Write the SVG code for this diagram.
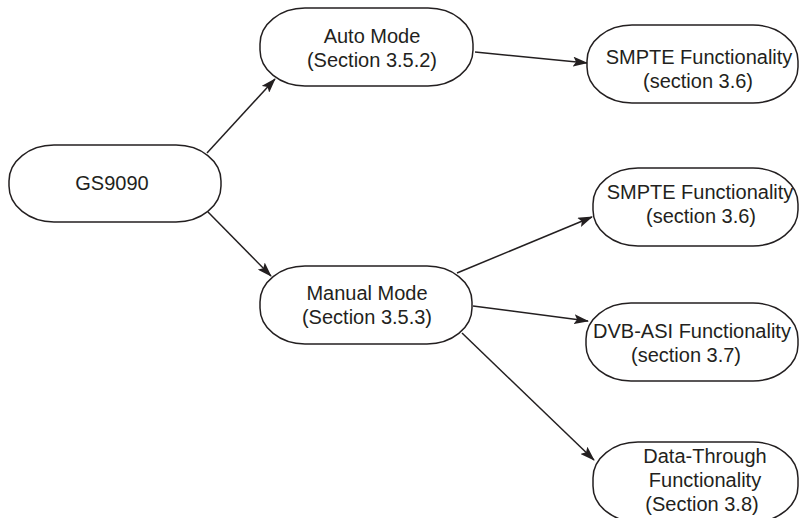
<svg xmlns="http://www.w3.org/2000/svg" width="799" height="518" viewBox="0 0 799 518">
<defs>
<style>
.node{fill:#fff;stroke:#231f20;stroke-width:1.5}
.t{font-family:"Liberation Sans",Arial,sans-serif;font-size:20px;fill:#231f20;text-anchor:middle}
.c{stroke:#231f20;stroke-width:1.5;fill:none;marker-end:url(#ah)}
</style>
<marker id="ah" viewBox="0 0 15 10" refX="14" refY="5" markerWidth="15" markerHeight="10" markerUnits="userSpaceOnUse" orient="auto">
<path d="M0,0 L15,5 L0,10 L3,5 Z" fill="#231f20"/>
</marker>
</defs>
<rect width="799" height="518" fill="#fff"/>
<g id="connectors">
<line class="c" x1="207" y1="153" x2="275" y2="79"/>
<line class="c" x1="208" y1="212" x2="271" y2="276"/>
<line class="c" x1="475" y1="52" x2="587" y2="63"/>
<line class="c" x1="457" y1="273" x2="592" y2="217"/>
<line class="c" x1="473" y1="306" x2="588" y2="321"/>
<line class="c" x1="462" y1="333" x2="594" y2="460"/>
</g>
<g id="gs9090">
<rect class="node" x="9" y="145" width="212" height="77" rx="45" ry="36"/>
<text class="t" x="112" y="190">GS9090</text>
</g>
<g id="auto">
<rect class="node" x="260" y="8" width="213" height="78" rx="45" ry="36"/>
<text class="t" x="372" y="43">Auto Mode</text>
<text class="t" x="372" y="67">(Section 3.5.2)</text>
</g>
<g id="manual">
<rect class="node" x="260" y="266" width="212" height="78" rx="45" ry="36"/>
<text class="t" x="367" y="300">Manual Mode</text>
<text class="t" x="367" y="324">(Section 3.5.3)</text>
</g>
<g id="smpte1">
<rect class="node" x="587" y="25" width="211" height="78" rx="45" ry="36"/>
<text class="t" x="699" y="64">SMPTE Functionality</text>
<text class="t" x="698" y="88">(section 3.6)</text>
</g>
<g id="smpte2">
<rect class="node" x="593" y="168" width="205" height="78" rx="45" ry="36"/>
<text class="t" x="700" y="199">SMPTE Functionality</text>
<text class="t" x="701" y="223">(section 3.6)</text>
</g>
<g id="dvbasi">
<rect class="node" x="586" y="303" width="212" height="78" rx="45" ry="36"/>
<text class="t" x="692" y="338">DVB-ASI Functionality</text>
<text class="t" x="686" y="362">(section 3.7)</text>
</g>
<g id="datathrough">
<rect class="node" x="593" y="442" width="205" height="80" rx="45" ry="36"/>
<text class="t" x="705" y="463">Data-Through</text>
<text class="t" x="705" y="487">Functionality</text>
<text class="t" x="702" y="511">(Section 3.8)</text>
</g>
</svg>
